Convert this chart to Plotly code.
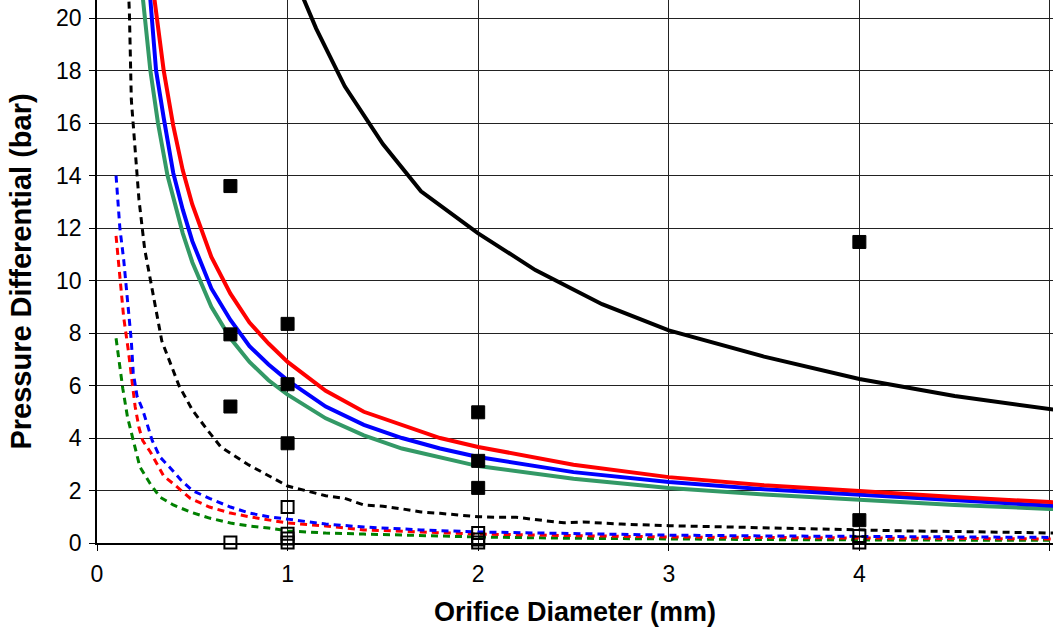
import plotly.graph_objects as go

# Orifice diameter (mm) vs pressure differential (bar)

# Solid model curves
red_x = [0.28, 0.30, 0.35, 0.40, 0.45, 0.50, 0.60, 0.70, 0.80, 0.90, 1.00, 1.20, 1.40, 1.60, 1.80, 2.00, 2.50, 3.00, 3.50, 4.00, 4.50, 5.00, 5.10]
red_y = [22.5, 20.8, 18.0, 15.9, 14.2, 12.9, 10.9, 9.5, 8.4, 7.6, 6.9, 5.8, 5.0, 4.5, 4.0, 3.66, 2.98, 2.51, 2.2, 1.98, 1.75, 1.56, 1.53]

blue_x = [0.26, 0.28, 0.31, 0.35, 0.40, 0.45, 0.50, 0.60, 0.70, 0.80, 0.90, 1.00, 1.20, 1.40, 1.60, 1.80, 2.00, 2.50, 3.00, 3.50, 4.00, 4.50, 5.00, 5.10]
blue_y = [22.5, 20.8, 18.0, 16.2, 14.1, 12.7, 11.5, 9.7, 8.5, 7.5, 6.8, 6.2, 5.2, 4.5, 4.0, 3.6, 3.28, 2.70, 2.32, 2.05, 1.83, 1.6, 1.41, 1.38]

green_x = [0.23, 0.24, 0.28, 0.32, 0.37, 0.45, 0.50, 0.60, 0.70, 0.80, 0.90, 1.00, 1.20, 1.40, 1.60, 1.80, 2.00, 2.50, 3.00, 3.50, 4.00, 4.50, 5.00, 5.10]
green_y = [22.5, 20.8, 18.0, 16.0, 14.0, 11.8, 10.7, 9.0, 7.8, 6.9, 6.2, 5.65, 4.75, 4.1, 3.6, 3.25, 2.93, 2.45, 2.1, 1.85, 1.64, 1.45, 1.3, 1.27]

black_x = [1.05, 1.08, 1.15, 1.30, 1.50, 1.70, 2.00, 2.30, 2.65, 3.00, 3.50, 4.00, 4.50, 5.00, 5.10]
black_y = [21.6, 20.8, 19.6, 17.4, 15.2, 13.4, 11.8, 10.4, 9.1, 8.1, 7.1, 6.25, 5.6, 5.1, 5.0]

# Dashed curves
black_d_x = [0.16, 0.17, 0.18, 0.20, 0.22, 0.25, 0.29, 0.34, 0.43, 0.50, 0.58, 0.65, 0.79, 1.00, 1.20, 1.30, 1.40, 1.50, 1.60, 1.70, 1.80, 1.90, 2.00, 2.10, 2.20, 2.35, 2.45, 2.55, 2.75, 3.00, 3.25, 3.50, 3.75, 4.00, 4.25, 4.50, 4.75, 5.00, 5.10]
black_d_y = [22.0, 20.2, 16.9, 15.0, 13.1, 11.2, 9.6, 7.7, 6.0, 5.07, 4.3, 3.66, 3.0, 2.17, 1.8, 1.7, 1.45, 1.4, 1.3, 1.18, 1.13, 1.07, 1.0, 0.98, 0.98, 0.85, 0.77, 0.8, 0.72, 0.66, 0.62, 0.56, 0.52, 0.48, 0.46, 0.44, 0.41, 0.38, 0.37]

blue_d_x = [0.10, 0.12, 0.14, 0.17, 0.18, 0.19, 0.21, 0.24, 0.26, 0.29, 0.33, 0.38, 0.44, 0.50, 0.59, 0.70, 0.80, 0.90, 1.00, 1.20, 1.40, 1.70, 2.00, 2.50, 3.00, 3.50, 4.00, 4.50, 5.00, 5.10]
blue_d_y = [14.0, 12.0, 10.8, 8.4, 7.7, 6.5, 5.6, 5.07, 4.57, 3.9, 3.28, 2.9, 2.4, 2.0, 1.7, 1.37, 1.14, 1.0, 0.91, 0.72, 0.61, 0.5, 0.42, 0.36, 0.3, 0.27, 0.25, 0.23, 0.21, 0.21]

red_d_x = [0.10, 0.125, 0.14, 0.165, 0.18, 0.19, 0.20, 0.22, 0.24, 0.28, 0.31, 0.35, 0.41, 0.49, 0.59, 0.70, 0.80, 0.90, 1.00, 1.20, 1.40, 1.70, 2.00, 2.50, 3.00, 3.50, 4.00, 4.50, 5.00, 5.10]
red_d_y = [11.7, 9.9, 8.6, 7.3, 6.3, 5.75, 5.2, 4.4, 3.9, 3.47, 3.1, 2.55, 2.2, 1.7, 1.37, 1.14, 1.0, 0.88, 0.76, 0.65, 0.5, 0.42, 0.34, 0.28, 0.23, 0.21, 0.19, 0.17, 0.15, 0.15]

green_d_x = [0.10, 0.12, 0.135, 0.16, 0.19, 0.225, 0.28, 0.33, 0.40, 0.49, 0.59, 0.70, 0.80, 0.90, 1.00, 1.20, 1.40, 1.70, 2.00, 2.50, 3.00, 3.50, 4.00, 4.50, 5.00, 5.10]
green_d_y = [7.8, 6.6, 5.9, 4.8, 3.9, 2.9, 2.25, 1.75, 1.45, 1.18, 0.95, 0.76, 0.65, 0.57, 0.46, 0.38, 0.34, 0.28, 0.23, 0.18, 0.15, 0.13, 0.12, 0.11, 0.1, 0.1]

# Measured points
filled_x = [0.7, 0.7, 0.7, 1.0, 1.0, 1.0, 2.0, 2.0, 2.0, 4.0, 4.0]
filled_y = [13.6, 7.95, 5.2, 8.35, 6.05, 3.8, 4.98, 3.13, 2.1, 11.47, 0.87]

open_x = [0.7, 1.0, 1.0, 1.0, 1.0, 2.0, 2.0, 2.0, 4.0, 4.0]
open_y = [0.02, 1.37, 0.35, 0.17, 0.02, 0.38, 0.13, 0.02, 0.27, 0.02]

y_ticks = list(range(0, 21, 2))
x_ticks = [0, 1, 2, 3, 4, 5]

fig = go.Figure()

dash_c = "7px,5px"
for xs, ys, col in [
    (green_d_x, green_d_y, "#008000"),
    (red_d_x, red_d_y, "#FF0000"),
    (blue_d_x, blue_d_y, "#0000FF"),
    (black_d_x, black_d_y, "#000000"),
]:
    fig.add_trace(go.Scatter(x=xs, y=ys, mode="lines",
                             line=dict(color=col, width=3, dash=dash_c),
                             showlegend=False, hoverinfo="skip"))

for xs, ys, col in [
    (green_x, green_y, "#339966"),
    (blue_x, blue_y, "#0000FF"),
    (red_x, red_y, "#FF0000"),
    (black_x, black_y, "#000000"),
]:
    fig.add_trace(go.Scatter(x=xs, y=ys, mode="lines",
                             line=dict(color=col, width=4),
                             showlegend=False))

fig.add_trace(go.Scatter(x=filled_x, y=filled_y, mode="markers",
                         marker=dict(symbol="square", size=13, color="#000000",
                                     line=dict(color="#000000", width=1)),
                         showlegend=False))
fig.add_trace(go.Scatter(x=open_x, y=open_y, mode="markers",
                         marker=dict(symbol="square", size=12, color="rgba(255,255,255,0)",
                                     line=dict(color="#000000", width=2)),
                         showlegend=False, cliponaxis=False))

font_family = "Liberation Sans, Arial, sans-serif"

fig.update_layout(
    width=1053, height=636,
    margin=dict(l=97, r=0, t=0, b=93),
    paper_bgcolor="white", plot_bgcolor="white",
    font=dict(family=font_family, size=21, color="#000000"),
    xaxis=dict(
        range=[0, 5.016], tickvals=x_ticks, ticktext=[str(v) for v in x_ticks],
        tickfont=dict(size=23),
        showgrid=True, gridcolor="#222222", gridwidth=1,
        showline=True, linecolor="#000000", linewidth=1.5,
        ticks="outside", ticklen=6, tickcolor="#000000",
        ticklabelstandoff=4,
        zeroline=False,
        title=dict(text="<b>Orifice Diameter (mm)</b>", font=dict(size=27), standoff=16),
    ),
    yaxis=dict(
        range=[0, 20.69], tickvals=y_ticks, ticktext=[str(v) for v in y_ticks],
        tickfont=dict(size=23),
        showgrid=True, gridcolor="#222222", gridwidth=1,
        showline=True, linecolor="#000000", linewidth=1.5,
        ticks="outside", ticklen=6, tickcolor="#000000",
        ticklabelstandoff=3,
        zeroline=False,
        title=dict(text="<b>Pressure Differential (bar)</b>", font=dict(size=29), standoff=16),
    ),
)

fig.write_html("out.html")
